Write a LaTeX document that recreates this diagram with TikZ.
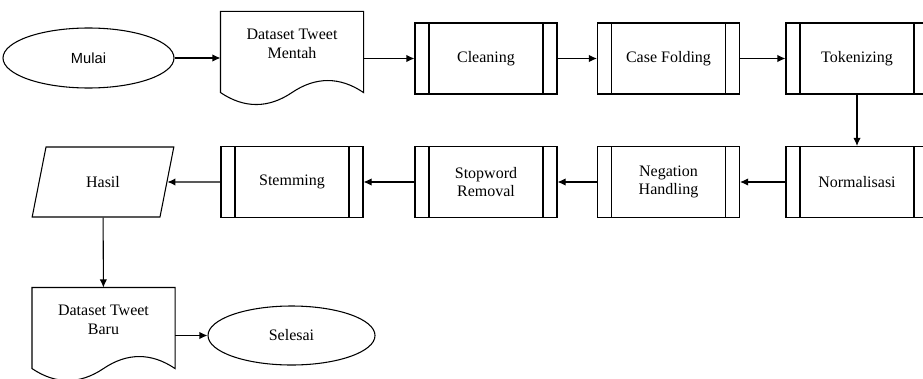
\documentclass[tikz,border=0pt]{standalone}
\usepackage{fontspec}
\setmainfont{Liberation Serif}
\newfontfamily\boxfont{Liberation Serif}
\newfontfamily\termfont{Liberation Sans}
\usetikzlibrary{arrows.meta,shapes.geometric}

\newcommand{\docoutline}[1]{%
	\draw (#1.north west) -- (#1.north east) -- ([yshift=-12pt]#1.south east)
		.. controls ([xshift=-17.75pt]#1.south east) and ([xshift=17.75pt]#1.south) .. ([yshift=-12pt]#1.south)
		.. controls ([shift={(-17.75pt,-24pt)}]#1.south) and ([shift={(17.75pt,-24pt)}]#1.south west) .. ([yshift=-12pt]#1.south west) -- cycle;}

\begin{document}
\begin{tikzpicture}[>={Latex[length=6pt,width=5.5pt]}, x=0.75pt, y=-0.75pt, line width=0.8pt,
	every node/.style={font=\boxfont\fontsize{12}{14}\selectfont},
	term/.style={draw, ellipse, inner sep=0pt},
	proc/.style={draw, minimum width=106.5pt, minimum height=53.25pt, inner sep=2pt, align=center,
		path picture={\draw ([xshift=10.5pt]path picture bounding box.north west) -- ([xshift=10.5pt]path picture bounding box.south west)
			([xshift=-10.5pt]path picture bounding box.north east) -- ([xshift=-10.5pt]path picture bounding box.south east);}},
	doc/.style={minimum width=106.5pt, minimum height=48pt, inner sep=0pt, align=center},
	io/.style={draw, trapezium, trapezium left angle=70, trapezium right angle=110, trapezium stretches=true,
		minimum width=106.5pt, minimum height=52.5pt, inner sep=0pt}]
	\useasboundingbox (0,0) rectangle (923,378);
	\node[term, minimum width=128.25pt, minimum height=45pt, font=\termfont\fontsize{11}{13}\selectfont] (mulai) at (88.5,58) {Mulai};
	\node[doc] (mentah) at (292,44) {Dataset Tweet\\Mentah};
	\node[proc] (cleaning) at (486,58.5)   {Cleaning};
	\node[proc] (casefold) at (668.5,58.5) {Case Folding};
	\node[proc] (token)    at (857,58.5)   {Tokenizing};
	\node[proc] (normal)   at (857,182)    {Normalisasi};
	\node[proc] (negation) at (668.5,182)  {Negation\\Handling};
	\node[proc] (stopword) at (486,182)    {Stopword\\Removal};
	\node[proc] (stemming) at (292,182)    {Stemming};
	\node[io]   (hasil)    at (103,182)    {Hasil};
	\node[doc]  (baru)     at (103.5,320)  {Dataset Tweet\\Baru};
	\node[term, minimum width=125.25pt, minimum height=44.25pt] (selesai) at (291.5,335.5) {Selesai};
	\docoutline{mentah}
	\docoutline{baru}
	\draw[->] (mulai) -- (mulai -| mentah.west);
	\draw[->] (mentah.east |- cleaning) -- (cleaning);
	\draw[->] (cleaning) -- (casefold);
	\draw[->] (casefold) -- (token);
	\draw[->] (token) -- (normal);
	\draw[->] (normal) -- (negation);
	\draw[->] (negation) -- (stopword);
	\draw[->] (stopword) -- (stemming);
	\draw[->] (stemming) -- (hasil);
	\draw[->] (hasil) -- (baru);
	\draw[->] (baru.east |- selesai) -- (selesai);
\end{tikzpicture}
\end{document}
